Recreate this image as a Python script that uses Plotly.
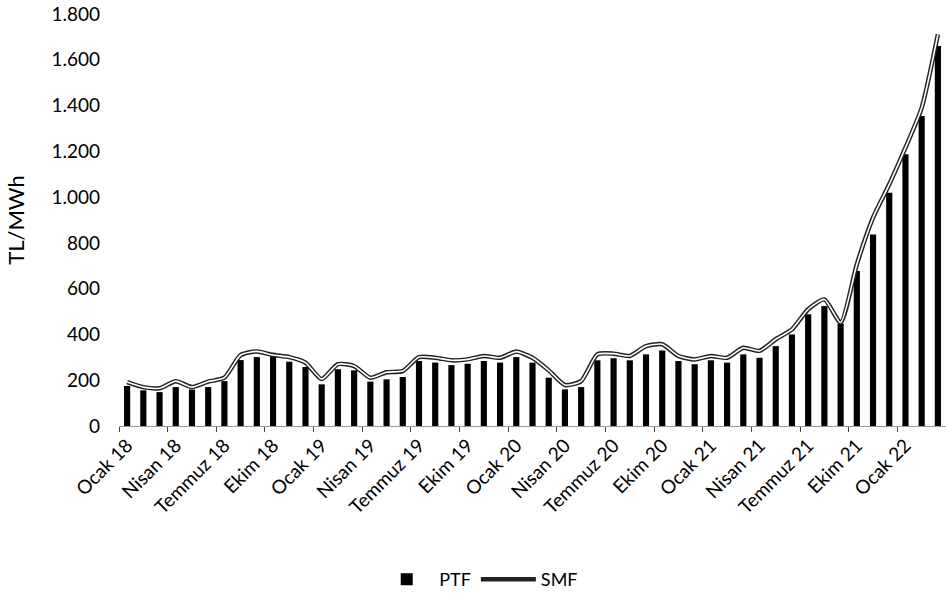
import plotly.graph_objects as go

# Turkish month names, Jan 2018 - Mar 2022
months = ["Ocak", "Şubat", "Mart", "Nisan", "Mayıs", "Haziran",
          "Temmuz", "Ağustos", "Eylül", "Ekim", "Kasım", "Aralık"]
periods = [f"{months[i % 12]} {18 + i // 12}" for i in range(51)]

# PTF (market clearing price), TL/MWh
ptf = [175, 156, 148, 170, 159, 170, 196, 288, 301, 320, 281, 258,
       182, 248, 243, 194, 204, 214, 284, 277, 266, 272, 284, 277,
       301, 277, 211, 160, 170, 287, 296, 287, 313, 330, 284, 270,
       287, 277, 313, 298, 349, 400, 488, 524, 447, 677, 837, 1019,
       1187, 1354, 1660]

# SMF (system marginal price), TL/MWh
smf = [192, 170, 165, 196, 170, 194, 211, 310, 326, 310, 301, 277,
       205, 270, 262, 211, 235, 240, 301, 298, 287, 291, 306, 298,
       325, 298, 243, 179, 196, 313, 316, 306, 349, 357, 306, 291,
       306, 298, 342, 328, 379, 422, 510, 553, 452, 706, 910, 1056,
       1216, 1390, 1711]

fig = go.Figure()

fig.add_trace(go.Bar(
    x=periods,
    y=ptf,
    name='PTF',
    marker=dict(color='black', line=dict(width=0)),
))

# SMF drawn as a double line: dark outline with a white core
fig.add_trace(go.Scatter(
    x=periods,
    y=smf,
    mode='lines',
    name='SMF',
    line=dict(color='#222222', width=4.5, shape='spline', smoothing=0.6),
))
fig.add_trace(go.Scatter(
    x=periods,
    y=smf,
    mode='lines',
    showlegend=False,
    hoverinfo='skip',
    line=dict(color='white', width=1.6, shape='spline', smoothing=0.6),
))

fig.update_layout(
    width=946,
    height=598,
    margin=dict(l=119, r=0, t=14, b=172),
    paper_bgcolor='white',
    plot_bgcolor='white',
    bargap=0.62,
    separators=',.',
    font=dict(family='Lato, Open Sans, sans-serif', color='black'),
    legend=dict(
        orientation='h',
        x=0.435, xanchor='center',
        y=-0.374, yanchor='middle',
        font=dict(size=18),
        itemwidth=55,
        traceorder='normal',
    ),
    xaxis=dict(
        type='category',
        tickmode='linear', tick0=0, dtick=3,
        tickson='boundaries',
        tickangle=-45,
        tickfont=dict(size=19),
        ticks='outside', ticklen=5, tickcolor='#444444',
        showline=True, linecolor='#999999', linewidth=1,
        showgrid=False,
        automargin=False,
        range=[-0.5, 50.5],
    ),
    yaxis=dict(
        range=[0, 1800],
        dtick=200,
        tickformat=',d',
        tickfont=dict(size=19),
        ticklabelstandoff=18,
        showgrid=False,
        zeroline=False,
        showline=False,
        ticks='',
        automargin=False,
        title=dict(text='TL/MWh', font=dict(size=22), standoff=20),
    ),
)

# drop the default 8px page margin so the figure sits at the window origin
fig.write_html(
    "out.html",
    config={'displayModeBar': False},
    post_script="document.body.style.margin = '0';",
)
